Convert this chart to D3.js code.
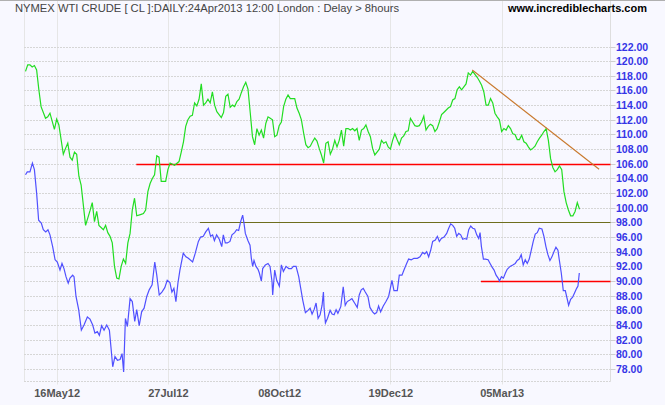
<!DOCTYPE html>
<html><head><meta charset="utf-8">
<script src="https://cdn.jsdelivr.net/npm/d3@7"></script>
<style>html,body{margin:0;padding:0;background:#f8f8ff;} svg{display:block;}</style>
</head><body><svg id="c" width="665" height="405"></svg>
<script>
const title = "NYMEX WTI CRUDE [ CL ]:DAILY:24Apr2013 12:00 London : Delay > 8hours";
const site = "www.incrediblecharts.com";
const xTickIdx = [14, 64, 114, 164, 214];
const xTickLabels = ["16May12", "27Jul12", "08Oct12", "19Dec12", "05Mar13"];
const yTicks = d3.range(78, 122.01, 2);
// [trading-day index, price]
const green = [[0,118.6],[1,119.5],[2,119.5],[3,119.2],[4,119.4],[5,118.8],[6,116.1],[7,113.8],[9,112.2],[10,112.4],[11,112.9],[13,110.7],[14,112.1],[15,111.3],[17,107.3],[18,108.1],[19,108.8],[20,106.9],[21,106.5],[22,107.6],[23,107.3],[24,104.3],[25,103.1],[27,97.6],[29,99.6],[30,100.7],[31,98.1],[32,99.5],[33,97.6],[35,97.0],[36,97.6],[37,96.6],[38,96.1],[39,95.2],[40,92.0],[41,90.4],[42,90.3],[43,92.0],[44,93.0],[45,92.4],[46,95.2],[47,96.5],[48,99.7],[49,101.3],[50,98.9],[52,99.1],[53,99.2],[54,99.7],[55,102.2],[56,103.3],[57,104.0],[58,104.5],[59,107.1],[60,106.9],[61,103.6],[63,103.6],[64,105.2],[65,106.1],[67,105.8],[69,106.3],[70,107.6],[71,109.0],[72,111.1],[73,112.0],[74,112.5],[75,112.6],[76,114.3],[77,113.9],[78,114.8],[79,116.9],[80,114.0],[81,114.3],[82,114.8],[83,114.3],[84,115.8],[85,114.0],[86,113.1],[87,112.7],[88,112.3],[89,113.0],[90,115.2],[91,115.5],[92,113.7],[93,114.0],[94,113.8],[95,114.5],[96,114.8],[97,115.7],[98,116.5],[99,117.1],[100,116.2],[101,113.0],[102,109.7],[103,108.6],[104,110.8],[105,109.9],[106,110.6],[107,109.5],[108,111.5],[109,112.4],[110,112.2],[111,112.0],[112,109.7],[113,109.9],[114,111.2],[115,111.7],[116,113.8],[117,114.8],[118,115.4],[119,114.9],[120,114.9],[121,114.9],[122,113.6],[123,112.9],[124,112.0],[125,110.2],[126,108.6],[127,108.2],[128,108.4],[129,109.0],[130,109.5],[131,109.1],[132,108.1],[133,107.2],[134,106.1],[135,108.8],[136,109.0],[137,107.3],[138,108.0],[139,109.2],[140,108.3],[141,109.2],[142,110.6],[143,108.4],[144,110.8],[145,110.8],[146,110.6],[147,110.8],[148,110.5],[149,110.8],[150,109.2],[151,110.6],[152,110.8],[153,111.3],[154,110.4],[155,109.7],[156,108.1],[157,107.2],[158,107.6],[159,108.0],[160,109.2],[161,108.8],[162,109.0],[163,108.3],[164,108.0],[165,109.2],[166,110.1],[167,109.3],[168,108.6],[169,109.5],[170,109.8],[171,110.4],[172,110.5],[173,112.2],[174,111.7],[175,111.2],[176,111.1],[177,111.2],[178,111.7],[179,112.5],[180,110.6],[181,111.1],[182,111.4],[183,111.2],[184,110.4],[185,110.8],[186,111.7],[187,112.7],[188,113.0],[189,113.3],[190,113.6],[191,113.8],[192,114.7],[193,114.9],[194,116.1],[195,116.5],[196,116.1],[197,116.5],[198,116.9],[199,118.4],[200,118.1],[201,118.6],[202,118.2],[203,117.8],[204,117.3],[205,116.7],[206,115.8],[207,114.0],[208,114.0],[209,114.9],[210,114.3],[211,112.9],[212,112.4],[213,112.0],[214,110.4],[215,110.8],[216,110.6],[217,111.2],[218,110.8],[219,110.1],[220,110.0],[221,109.3],[222,109.3],[223,109.9],[224,109.0],[225,108.8],[226,108.3],[227,107.9],[228,108.1],[229,108.4],[230,109.0],[231,109.5],[232,109.9],[233,110.4],[234,110.8],[235,109.2],[236,106.7],[237,105.5],[238,104.9],[239,105.2],[240,105.7],[241,105.2],[242,102.2],[243,100.7],[244,99.7],[245,98.9],[246,98.9],[247,99.5],[248,100.7],[249,99.8]];
const blue = [[0,104.5],[0.8,104.9],[2,104.9],[3.1,106.1],[4,105.2],[5,102.0],[5.9,98.3],[7.1,97.9],[8,97.0],[9.1,96.7],[10.1,97.0],[11,96.3],[12.2,94.7],[13.3,92.9],[14.3,92.6],[15.5,91.5],[16.4,92.4],[17.3,91.7],[18.2,90.6],[19.2,89.7],[20,90.4],[21.2,90.8],[21.8,90.6],[22.7,87.9],[23.9,86.1],[25.1,83.3],[26.3,84.0],[27.8,85.1],[29,84.8],[30.2,84.0],[31.2,82.9],[32.3,83.1],[33.2,82.6],[34.2,83.9],[35.3,83.3],[36.5,84.0],[37.7,83.3],[38.4,81.0],[39.2,78.3],[40.2,79.7],[41.3,79.2],[42.5,79.3],[43.4,80.1],[44.1,77.6],[44.9,84.9],[45.8,83.8],[47,87.6],[48,87.2],[49.1,84.5],[50,86.1],[51.1,83.9],[52.2,85.8],[53.3,86.3],[54.5,87.9],[55.6,88.8],[56.9,89.5],[58.1,92.6],[59,90.8],[60.1,88.1],[61.3,88.5],[62.6,89.1],[63.7,90.1],[64.9,89.8],[65.8,88.5],[66.7,89.0],[67.6,87.2],[68.5,89.7],[69.4,91.5],[70.9,93.8],[72.1,93.3],[73.2,93.1],[75.1,92.6],[76.3,93.8],[77.7,95.4],[78.7,96.0],[79.9,96.1],[81,96.7],[82.2,97.2],[83.2,96.1],[84.1,96.3],[84.9,95.5],[85.9,96.3],[87.1,95.7],[88.2,94.7],[88.9,96.3],[89.8,95.2],[90.7,95.2],[91.9,95.4],[92.8,96.3],[94,96.6],[94.9,97.0],[95.8,96.9],[96.7,98.1],[97.6,99.0],[98.2,97.9],[98.8,96.5],[100,95.5],[100.9,94.9],[101.5,93.1],[102.1,92.0],[102.7,92.8],[103.6,92.0],[104.5,91.6],[105.1,91.1],[106,90.0],[106.6,91.7],[107.8,92.2],[109,92.4],[109.9,92.0],[110.8,89.9],[111.1,88.1],[112,91.5],[112.9,90.1],[114.1,89.3],[115,92.2],[115.9,91.3],[117.1,92.0],[118.3,91.7],[119.5,91.7],[120.4,92.0],[121.6,92.0],[122.8,90.6],[123.7,89.0],[124.6,87.4],[125.8,85.7],[127,86.0],[127.9,86.3],[128.8,85.5],[129.7,86.1],[130.6,87.0],[131.5,84.9],[132.4,85.4],[133.3,86.7],[133.9,88.5],[134.2,86.3],[134.8,84.3],[135.7,84.9],[136.9,86.0],[137.8,85.5],[138.7,85.4],[139.6,86.1],[140.4,85.6],[141.7,86.5],[142.8,89.2],[143.7,86.7],[144.6,87.2],[145.8,87.4],[146.7,87.6],[147.9,87.0],[149.1,86.4],[150,88.1],[150.9,88.8],[151.8,89.0],[152.7,88.5],[153.9,87.9],[154.8,86.4],[156,85.8],[156.9,85.5],[157.8,85.7],[158.7,86.6],[159.6,85.8],[160.8,86.6],[162,87.2],[163.2,87.9],[164.1,89.2],[164.7,90.1],[165.6,88.7],[167.1,88.7],[168,90.8],[169.2,90.8],[170.1,91.5],[171.3,92.4],[172.2,93.0],[173.4,92.9],[174.6,93.1],[176.1,93.1],[177.3,93.3],[178.5,93.9],[179.4,93.7],[180.3,94.0],[181.2,93.3],[182.1,94.2],[183,95.4],[184.2,95.6],[185.1,96.1],[186,95.4],[186.9,95.8],[188.1,96.0],[189.3,96.5],[190.2,97.2],[191.1,97.8],[192,97.6],[192.9,97.2],[193.8,96.1],[194.7,96.5],[195.6,96.3],[196.5,95.7],[197.4,95.8],[198.3,95.7],[199.2,97.0],[200.1,97.5],[201,97.2],[201.9,97.1],[202.8,96.3],[203.7,95.8],[204.3,96.6],[204.9,94.7],[205.8,93.0],[206.7,93.0],[207.9,92.9],[208.8,92.4],[209.7,91.9],[210.6,91.5],[211.5,90.8],[212.4,90.4],[213,90.0],[213.9,90.6],[214.8,90.4],[215.7,91.1],[216.5,91.6],[217.8,92.0],[219,92.2],[220.1,92.4],[221,92.8],[221.9,93.0],[222.8,93.6],[223.7,92.2],[224.6,92.9],[225.5,92.4],[226.4,93.0],[227.3,94.2],[228.2,95.4],[229.1,96.4],[230,96.6],[230.9,97.2],[232.1,97.1],[233,96.1],[233.9,94.7],[234.8,93.6],[235.7,92.8],[236.6,93.3],[237.5,94.0],[238.4,94.6],[239.3,94.2],[239.9,92.9],[240.8,91.1],[241.7,88.7],[242.6,88.7],[243.2,87.9],[244.1,86.7],[245,87.5],[245.9,87.8],[246.8,88.4],[247.7,89.0],[248.3,89.3],[248.9,91.1]];
const levels = [106, 98, 90];
const levelStart = [49.8, 78.4, 204.7];
const trend = [[200.8, 118.8], [257.8, 105.25]];

const L = 24, R = 610.5, B = 381.5;
const svg = d3.select("#c");
const font = "'Liberation Sans', Arial, sans-serif";
const x = d3.scaleLinear().domain([0, 250]).range([25.5, 581.75]);
const y = d3.scaleLinear().domain([78, 122]).range([369, 46.5]);

svg.append("rect").attr("width", 665).attr("height", 405).attr("fill", "#f8f8ff");

// vertical grid
svg.append("g").selectAll("line").data(xTickIdx).join("line")
  .attr("x1", d => Math.round(x(d)) + 0.5).attr("x2", d => Math.round(x(d)) + 0.5)
  .attr("y1", 0).attr("y2", B + 3).attr("stroke", "#e6e6e6");
svg.append("line").attr("x1", L + 0.5).attr("x2", L + 0.5).attr("y1", 0).attr("y2", B)
  .attr("stroke", "#e6e6e6");
svg.append("line").attr("x1", R).attr("x2", R).attr("y1", 0).attr("y2", B)
  .attr("stroke", "#dedede");
// horizontal grid
svg.append("g").selectAll("line").data(yTicks).join("line")
  .attr("x1", L).attr("x2", R).attr("y1", d => Math.round(y(d)) + 0.5).attr("y2", d => Math.round(y(d)) + 0.5)
  .attr("stroke", "#d6d6d6").attr("stroke-dasharray", "2,1");
svg.append("g").selectAll("line").data(yTicks).join("line")
  .attr("x1", R).attr("x2", R + 5).attr("y1", d => Math.round(y(d)) + 0.5).attr("y2", d => Math.round(y(d)) + 0.5)
  .attr("stroke", "#cfcfcf");
svg.append("line").attr("x1", L).attr("x2", R).attr("y1", B).attr("y2", B)
  .attr("stroke", "#d6d6d6").attr("stroke-dasharray", "2,1");
svg.append("line").attr("x1", 0).attr("x2", 665).attr("y1", 0.5).attr("y2", 0.5).attr("stroke", "#b0b0b0");

// y labels
svg.append("g").selectAll("text").data(yTicks).join("text")
  .attr("x", 616).attr("y", d => y(d) + 4)
  .attr("font-family", font).attr("font-weight", "bold").attr("font-size", 10.5)
  .attr("fill", "#3535e6").text(d => d.toFixed(2));
// x labels
svg.append("g").selectAll("text").data(xTickIdx).join("text")
  .attr("x", d => x(d) + 0.5).attr("y", 397).attr("text-anchor", "middle")
  .attr("font-family", font).attr("font-weight", "bold").attr("font-size", 11)
  .attr("fill", "#555").text((d, i) => xTickLabels[i]);

// level lines
const levelColors = ["#ff0000", "#6e6e1e", "#ff0000"];
const levelWidths = [1.4, 1, 1.4];
svg.append("g").selectAll("line").data(levels).join("line")
  .attr("x1", (d, i) => x(levelStart[i])).attr("x2", R)
  .attr("y1", d => Math.round(y(d)) + 0.5).attr("y2", d => Math.round(y(d)) + 0.5)
  .attr("stroke", (d, i) => levelColors[i]).attr("stroke-width", (d, i) => levelWidths[i]);

const line = d3.line().x(d => x(d[0])).y(d => y(d[1]));
svg.append("path").datum(green).attr("d", line).attr("fill", "none")
  .attr("stroke", "#22dd22").attr("stroke-width", 1.2);
svg.append("path").datum(blue).attr("d", line).attr("fill", "none")
  .attr("stroke", "#5050ff").attr("stroke-width", 1.2);
svg.append("path").datum(trend).attr("d", line).attr("fill", "none")
  .attr("stroke", "#c8782c").attr("stroke-width", 1.1);

svg.append("text").attr("x", 15).attr("y", 12).attr("font-family", font).attr("font-size", 11.2)
  .attr("fill", "#444").text(title);
svg.append("text").attr("x", 508).attr("y", 12).attr("font-family", font).attr("font-size", 11)
  .attr("font-weight", "bold").attr("fill", "#000").text(site);
</script></body></html>
